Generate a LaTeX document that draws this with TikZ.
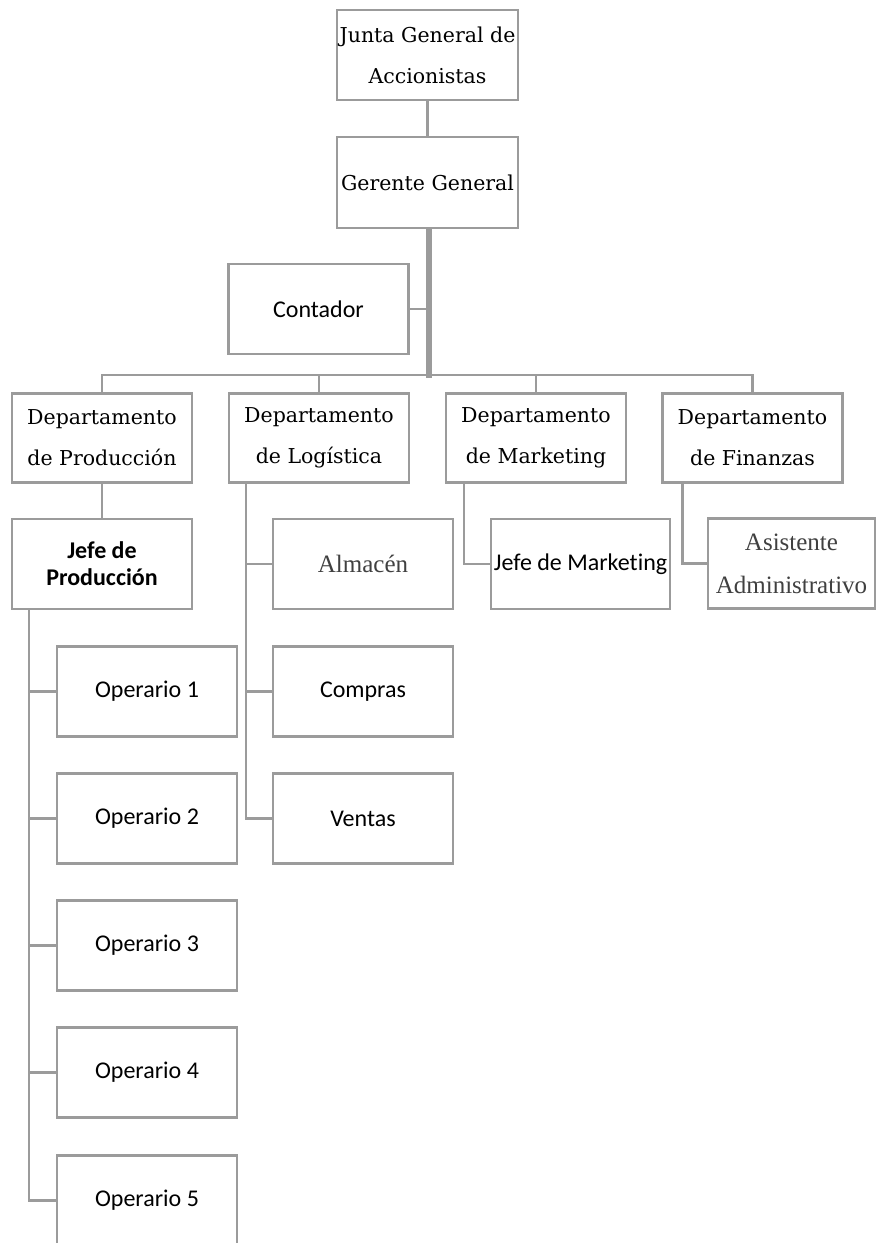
\documentclass[tikz,border=0pt]{standalone}
\usepackage{fontspec}
\usepackage{xcolor}
\usepackage{tikz}
\usetikzlibrary{positioning}
\setsansfont{Carlito}[Ligatures=NoCommon]
\newfontfamily\headfont{DejaVu Serif}
\newfontfamily\lightfont{Liberation Serif}
\definecolor{orgGray}{HTML}{9B9B9B}
\definecolor{orgText}{HTML}{404040}
\tikzset{
  link/.style={draw=orgGray, line width=2.4pt},
  trunk/.style={draw=orgGray, line width=6pt},
  post box/.style={rectangle, draw=orgGray, line width=2.4pt, fill=white,
    minimum width=180pt, minimum height=90pt, inner sep=0pt, align=center},
  head box/.style={post box, font=\headfont\fontsize{20.5}{41}\selectfont},
  staff box/.style={post box, font=\sffamily\fontsize{24}{28}\selectfont},
  aide box/.style={post box, font=\lightfont\fontsize{25}{43}\selectfont,
    text=orgText}
}
\begin{document}
\begin{tikzpicture}[x=1pt, y=-1pt]
  \useasboundingbox (0,0) rectangle (877,1243);
  \fill[white] (0,0) rectangle (877,1243);

  \node[head box, minimum width=181pt] (junta) at (427.5,55)
    {Junta General de\\Accionistas};
  \node[head box, minimum width=181pt, minimum height=91pt] (gerente)
    at (427.5,182.5) {Gerente General};
  \node[staff box] (contador) at (318.5,309) {Contador};
  \coordinate (hub) at (429,375);

  \node[head box, minimum height=89pt] (dprod) at (102,438)
    {Departamento\\de Producción};
  \node[head box, minimum height=89pt] (dlog) at (319,438)
    {Departamento\\de Logística};
  \node[head box, minimum height=89pt] (dmkt) at (536,438)
    {Departamento\\de Marketing};
  \node[head box, minimum height=89pt] (dfin) at (752.5,438)
    {Departamento\\de Finanzas};

  \node[staff box, font=\sffamily\bfseries\fontsize{24}{27}\selectfont]
    (jprod) at (102,564) {Jefe de\\Producción};
  \node[aide box] (almacen) at (363,564) {Almacén};
  \node[staff box] (compras) at (363,691.5) {Compras};
  \node[staff box] (ventas) at (363,818.5) {Ventas};
  \node[staff box, minimum width=179pt] (jmkt) at (580.5,564)
    {Jefe de Marketing};
  \node[aide box, minimum width=167pt] (asist) at (791.5,563.5)
    {Asistente\\Administrativo};

  \node[staff box] (op1) at (147,691.5) {Operario 1};
  \node[staff box] (op2) at (147,818.5) {Operario 2};
  \node[staff box] (op3) at (147,945.5) {Operario 3};
  \node[staff box] (op4) at (147,1072.5) {Operario 4};
  \node[staff box] (op5) at (147,1200.5) {Operario 5};

  \draw[link] (junta) -- (gerente);
  \draw[trunk] (gerente.south -| hub) -- ([yshift=-3pt]hub);
  \draw[link] (contador.east) -- (contador.east -| hub);
  \draw[link] (dprod.north) |- (hub) -| (dfin.north);
  \draw[link] (dlog.north) -- (dlog.north |- hub);
  \draw[link] (dmkt.north) -- (dmkt.north |- hub);

  \draw[link] (dprod) -- (jprod);
  \draw[link] ([xshift=18pt]dlog.south west) |- (almacen.west);
  \draw[link] ([xshift=18pt]dlog.south west) |- (compras.west);
  \draw[link] ([xshift=18pt]dlog.south west) |- (ventas.west);
  \draw[link] ([xshift=19pt]dmkt.south west) |- (jmkt.west);
  \draw[link] ([xshift=21pt]dfin.south west) |- (asist.west);

  \draw[link] ([xshift=18pt]jprod.south west) |- (op1.west);
  \draw[link] ([xshift=18pt]jprod.south west) |- (op2.west);
  \draw[link] ([xshift=18pt]jprod.south west) |- (op3.west);
  \draw[link] ([xshift=18pt]jprod.south west) |- (op4.west);
  \draw[link] ([xshift=18pt]jprod.south west) |- (op5.west);
\end{tikzpicture}
\end{document}
